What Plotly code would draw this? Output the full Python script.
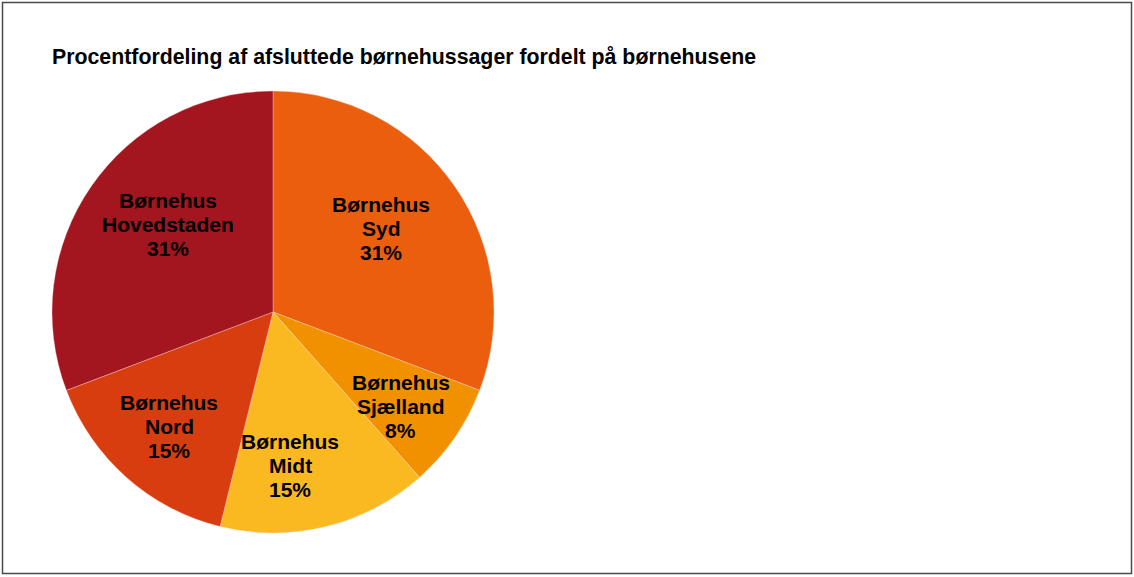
import math
import plotly.graph_objects as go

W, H = 1134, 577

names = ["Syd", "Sjælland", "Midt", "Nord", "Hovedstaden"]
prefix = "Børnehus"
values = [4, 1, 2, 2, 4]
colors = ["#EB5E0E", "#F29100", "#FBB921", "#D73D0F", "#A3151F"]
title = "Procentfordeling af afsluttede børnehussager fordelt på børnehusene"

# style: small angular nudges (degrees) of each label from the slice middle
label_angle_nudge = [-3, 2, 7.5, 0.7, 5]

FONT = "Liberation Sans, Arial, Helvetica, sans-serif"

cx, cy, r = 273, 312, 221
centroid_scale = 1.09
line_h = 24
label_size = 21

labels = [prefix + " " + n for n in names]

fig = go.Figure(go.Pie(
    labels=labels,
    values=values,
    sort=False,
    direction="clockwise",
    rotation=0,
    marker=dict(colors=colors, line=dict(color="rgba(255,215,215,0.6)", width=0.6)),
    textinfo="none",
    hoverinfo="skip",
    showlegend=False,
    domain=dict(x=[(cx - r) / W, (cx + r) / W], y=[1 - (cy + r) / H, 1 - (cy - r) / H]),
))

# labels inside slices, placed near the centroid of each sector
total = sum(values)
cum = 0
for n, v, nud in zip(names, values, label_angle_nudge):
    theta = v / total * 2 * math.pi
    mid = (cum + v / 2) / total * 2 * math.pi + math.radians(nud)
    cum += v
    dist = centroid_scale * 2 * r * math.sin(theta / 2) / (3 * theta / 2)
    px = cx + dist * math.sin(mid)
    py = cy - dist * math.cos(mid)
    lines = [prefix, n, f"{round(100 * v / total)}%"]
    for i, t in enumerate(lines):
        fig.add_annotation(
            text="<b>" + t + "</b>",
            xref="paper", yref="paper", x=px / W, y=1 - py / H,
            xanchor="center", yanchor="middle", showarrow=False,
            yshift=-(i - 1) * line_h,
            font=dict(family=FONT, size=label_size, color="#000000"),
        )

fig.add_annotation(
    text="<b>" + title + "</b>",
    xref="paper", yref="paper", x=50 / W, y=1 - 57 / H,
    xanchor="left", yanchor="middle", showarrow=False,
    font=dict(family=FONT, size=21.3, color="#000000"),
)

fig.add_shape(
    type="rect", xref="paper", yref="paper",
    x0=2.5 / W, x1=1131.5 / W, y0=1 - 573.5 / H, y1=1 - 2.5 / H,
    line=dict(color="#4a4a4a", width=1.5), fillcolor="rgba(0,0,0,0)",
)

fig.update_layout(
    width=W, height=H,
    margin=dict(l=0, r=0, t=0, b=0),
    paper_bgcolor="white", plot_bgcolor="white",
    font=dict(family=FONT),
)

fig.write_html(
    "out.html",
    config={"displayModeBar": False},
    post_script="document.body.style.margin='0';document.body.style.padding='0';",
)
